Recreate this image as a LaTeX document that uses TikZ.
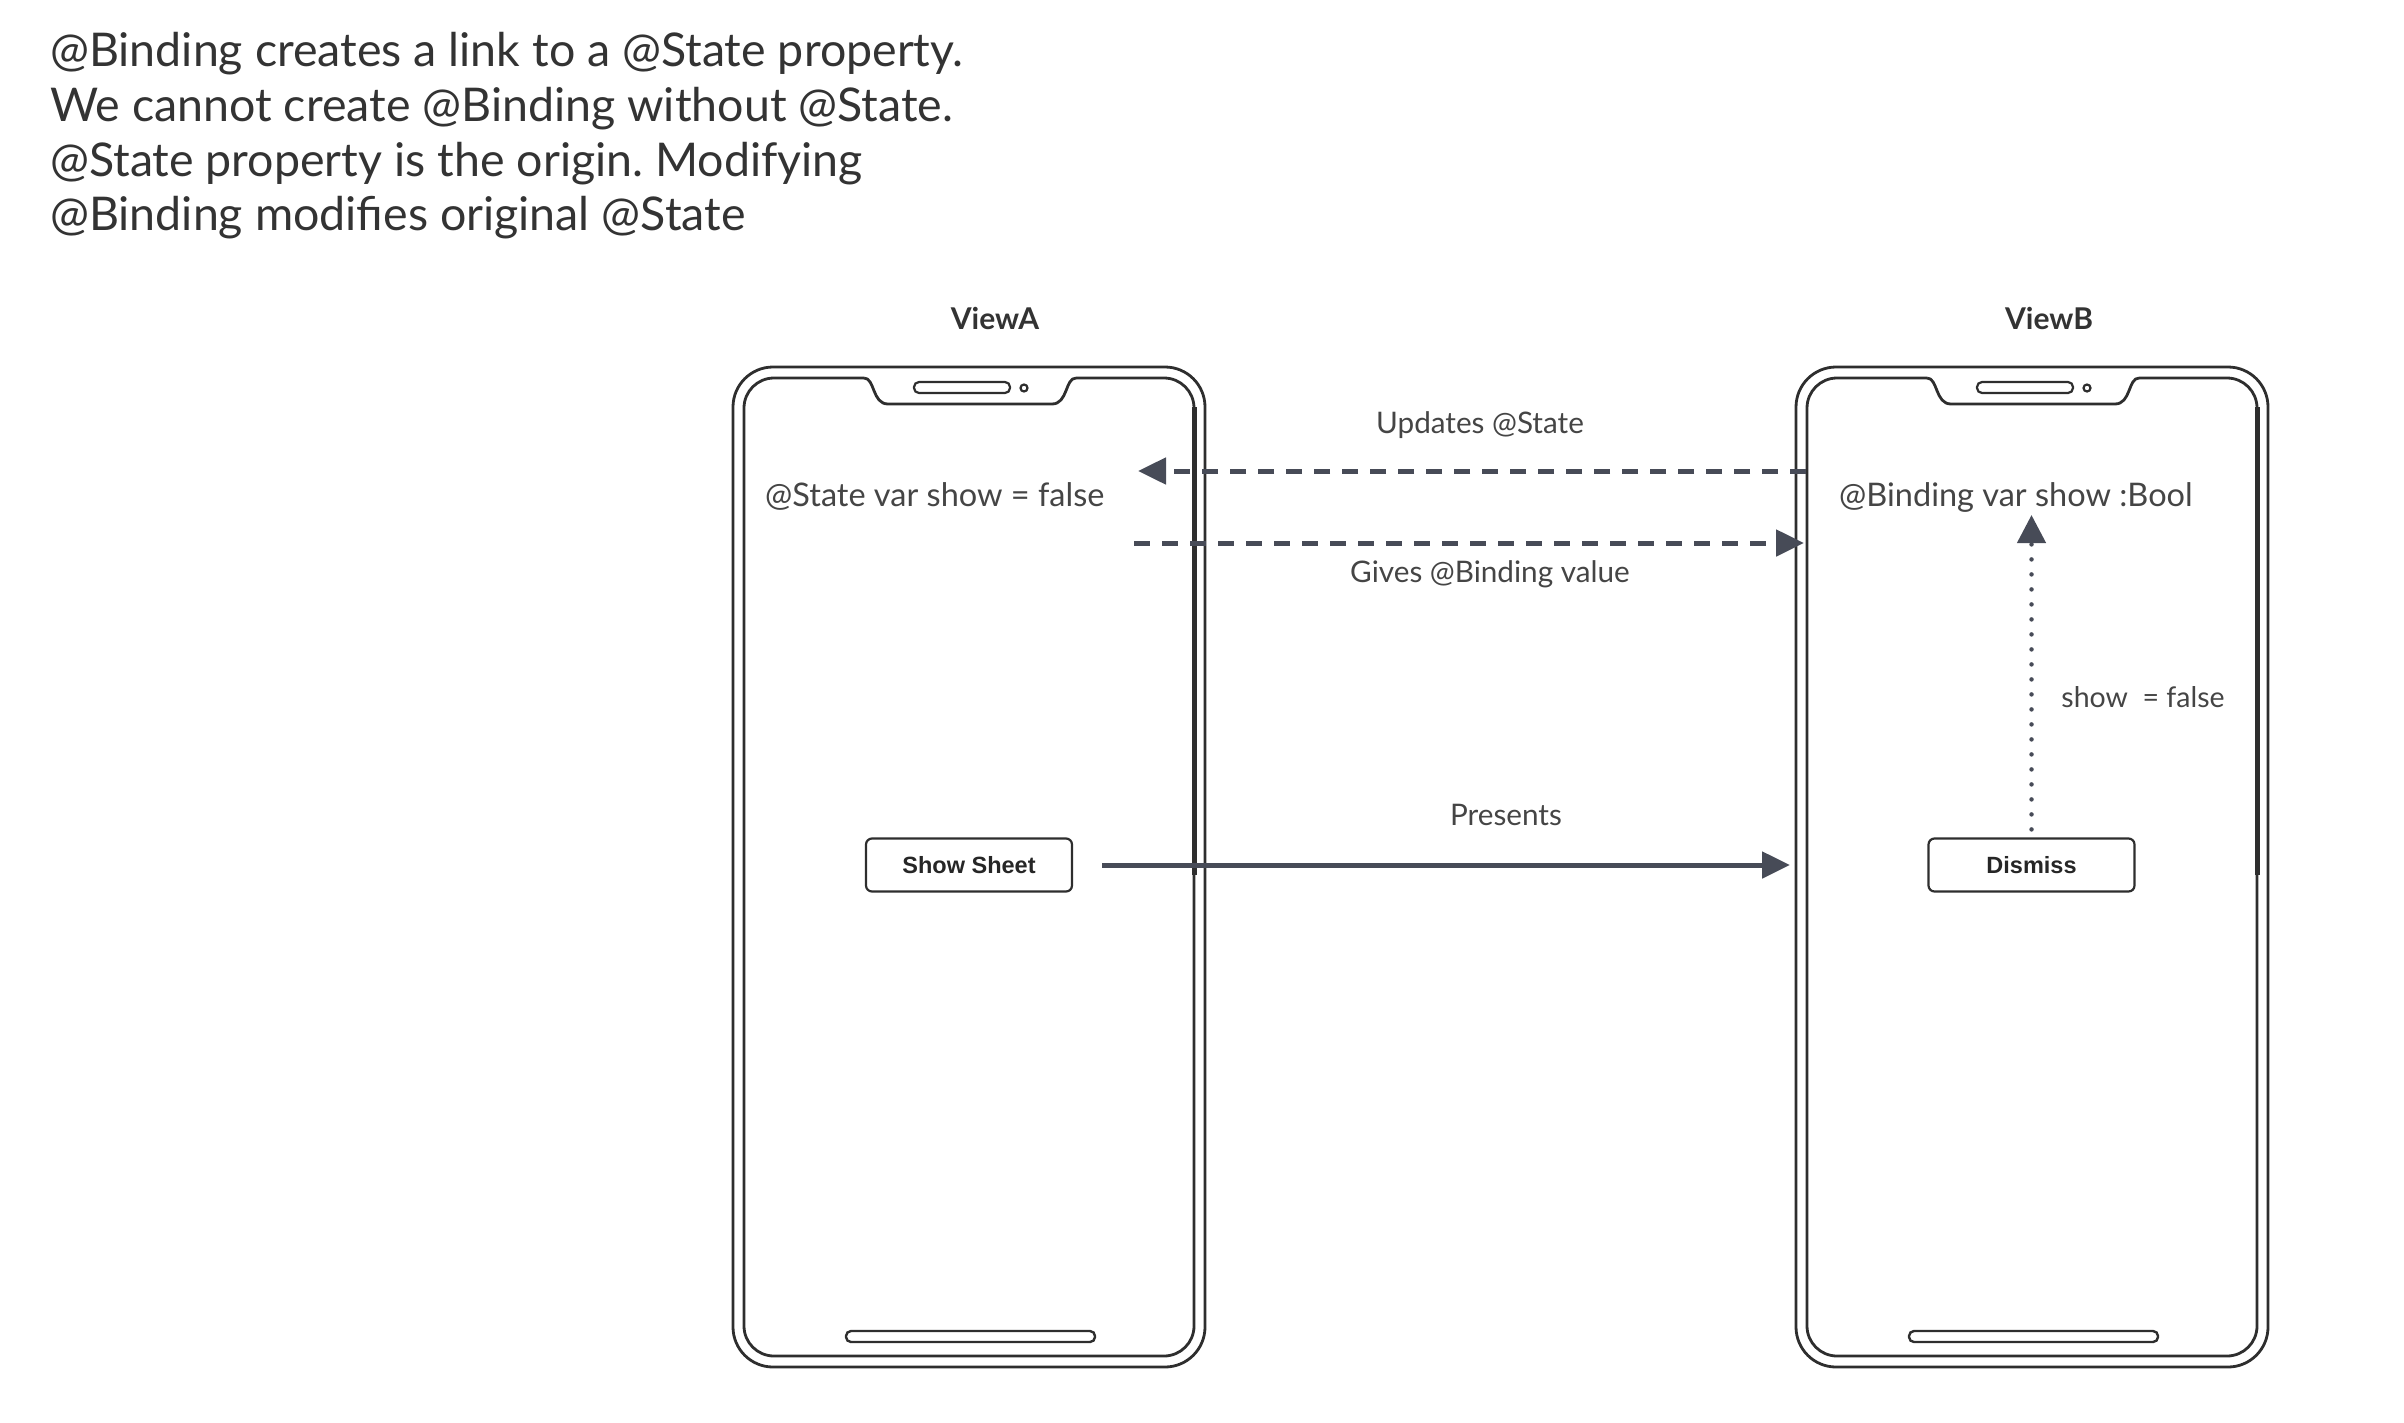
\documentclass[tikz,border=0pt]{standalone}
\usepackage{fontspec}
\setmainfont{Lato}
\newfontfamily\btnfont{Liberation Sans}
\usetikzlibrary{arrows.meta,positioning}
\frenchspacing

\definecolor{txtgray}{HTML}{333333}
\definecolor{lblgray}{HTML}{454545}
\definecolor{framegray}{HTML}{2E2E2E}
\definecolor{arrowgray}{HTML}{474B57}

\tikzset{
  phoneline/.style={draw=framegray, line width=2.8pt},
  headline/.style={anchor=base west, inner sep=0pt, text=txtgray, font=\fontsize{46.5}{55}\selectfont},
  viewlabel/.style={inner sep=0pt, text=txtgray, font=\fontsize{30}{34}\selectfont\bfseries},
  proplabel/.style={anchor=west, inner sep=0pt, text=lblgray, font=\fontsize{32.5}{38}\selectfont},
  arrowlabel/.style={inner sep=0pt, text=lblgray, font=\fontsize{29.7}{34}\selectfont},
  btn/.style={draw=framegray, line width=2.2pt, rounded corners=6pt, minimum width=206pt, minimum height=53pt, inner sep=0pt, font=\btnfont\fontsize{23.5}{26}\selectfont\bfseries, text=black!85},
  dasharrow/.style={draw=arrowgray, line width=5pt, dash pattern=on 16pt off 12pt, -{Triangle[length=28pt,width=26pt]}},
  solidarrow/.style={draw=arrowgray, line width=5pt, -{Triangle[length=28pt,width=26pt]}},
  dotarrow/.style={draw=arrowgray, line width=4.5pt, line cap=round, dash pattern=on 0pt off 15pt, -{Triangle[length=28pt,width=28pt]}}
}

% phone outline, drawn around (969,867) and shifted by #2
\newcommand{\drawphone}[2]{%
  \begin{scope}[xshift=#2]
    \node[phoneline, rounded corners=40pt, minimum width=472pt, minimum height=1000pt] (#1) at (969,867) {};
    \draw[phoneline, rounded corners=30pt] (864,378) -- (744,378) -- (744,1356) -- (1194,1356) -- (1194,378) -- (1076,378);
    \draw[phoneline] (864,378) .. controls (875,378) and (872,404) .. (888,404) -- (1052,404) .. controls (1068,404) and (1065,378) .. (1076,378);
    \draw[framegray, line width=5pt] (1194,407) -- (1194,875);
    \draw[phoneline, line width=2.2pt, rounded corners=5pt] (914,382) rectangle (1010,393);
    \draw[phoneline, line width=2.2pt] (1024,388) circle (3.5pt);
    \draw[phoneline, line width=2.4pt, rounded corners=5pt] (846,1331) rectangle (1095,1342);
  \end{scope}}

\begin{document}
\begin{tikzpicture}[x=1pt, y=-1pt]
  \useasboundingbox (0,0) rectangle (2404,1422);

  % text at the top
  \node[headline] (line1) at (50,66) {@Binding creates a link to a @State property.};
  \node[headline] (line2) at (50,121) {We cannot create @Binding without @State.};
  \node[headline] (line3) at (50,176) {@State property is the origin. Modifying};
  \node[headline] (line4) at (50,230) {@Binding modifies original @State};

  % the two phones
  \drawphone{viewA}{0}
  \drawphone{viewB}{1063}

  \node[viewlabel] (titleA) at (995,318) {ViewA};
  \node[viewlabel] (titleB) at (2049,318) {ViewB};

  \node[proplabel] (stateVar) at (765,496) {@State var show = false};
  \node[proplabel] (bindVar) at (1839,497) {@Binding var show :Bool};

  \node[btn] (showBtn) at (969,865) {Show Sheet};
  \node[btn] (dismissBtn) at (2031.5,865) {Dismiss};

  % connectors
  \coordinate (updFrom) at (1806,471);
  \coordinate (updTo) at (1138,471);
  \coordinate (givFrom) at (1134,543);
  \coordinate (givTo) at (1804,543);
  \coordinate (presTo) at (1790,865);
  \coordinate (dotTo) at (2031.5,515);

  \draw[dasharrow] (updFrom) -- (updTo);
  \draw[dasharrow] (givFrom) -- (givTo);
  \draw[solidarrow] ([xshift=29pt]showBtn.east) -- (presTo);
  \draw[dotarrow] ([yshift=8pt]dismissBtn.north) -- (dotTo);

  \node[arrowlabel] (updLbl) at (1480,425) {Updates @State};
  \node[arrowlabel] (givLbl) at (1490,574) {Gives @Binding value};
  \node[arrowlabel] (presLbl) at (1506,815) {Presents};
  \node[arrowlabel, font=\fontsize{28.5}{34}\selectfont] (showLbl) at (2143,697) {show~ = false};
\end{tikzpicture}
\end{document}
